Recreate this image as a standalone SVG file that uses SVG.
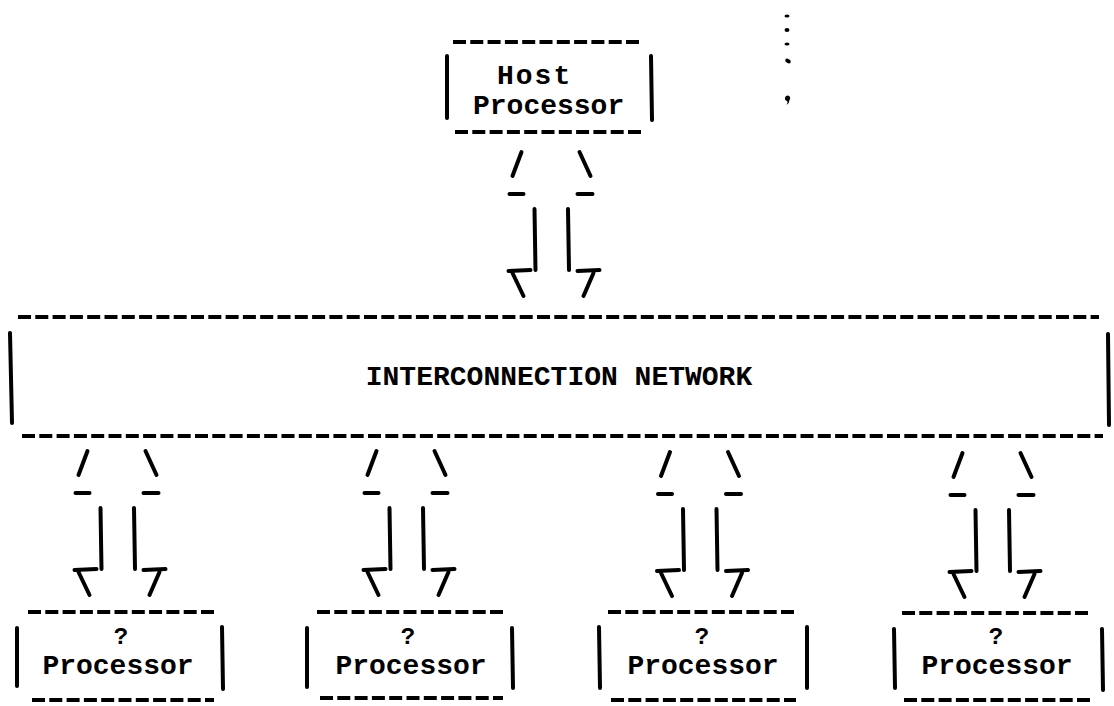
<svg xmlns="http://www.w3.org/2000/svg" width="1114" height="706" viewBox="0 0 1114 706">
  <style>
    .ln { stroke: #000; stroke-width: 4; stroke-linecap: round; fill: none; }
    .dash { stroke: #000; stroke-width: 4; stroke-dasharray: 13 4.3; stroke-linecap: butt; fill: none; }
    .lbl { font-family: "Liberation Mono", "Courier New", monospace; font-weight: bold; font-size: 28px; fill: #000; }
    .q { font-size: 24px; }
    .mark { fill: #000; }
  </style>
  <defs>
    <!-- typed double arrow: arrowheads at both ends, centred on x=0, top at y=0 -->
    <g id="link" class="ln">
      <line x1="-30" y1="0" x2="-39" y2="24"/>
      <line x1="28" y1="0" x2="39" y2="24"/>
      <line x1="-42" y1="42" x2="-28" y2="42"/>
      <line x1="26" y1="42" x2="41" y2="42"/>
      <line x1="-17" y1="57" x2="-16" y2="118"/>
      <line x1="16.5" y1="57" x2="17.5" y2="118"/>
      <line x1="-43" y1="119" x2="-21" y2="118"/>
      <line x1="-39" y1="121" x2="-28" y2="144"/>
      <line x1="26" y1="119" x2="48" y2="118"/>
      <line x1="42" y1="121" x2="32" y2="144"/>
    </g>
  </defs>

  <rect width="1114" height="706" fill="#fff"/>

  <!-- continuation marks beside the host -->
  <g id="ellipsis">
    <ellipse class="mark" cx="787" cy="16" rx="2.5" ry="1.5"/>
    <ellipse class="mark" cx="787" cy="30" rx="2.5" ry="2"/>
    <ellipse class="mark" cx="787" cy="44" rx="2.5" ry="1.5"/>
    <ellipse class="mark" cx="788" cy="61" rx="3" ry="2" transform="rotate(30 788 61)"/>
    <path class="mark" d="M785,98 a2.6,2.6 0 1 1 4.5,2 q0,3 -3,5 q1.5,-2.5 0.8,-4 a2.6,2.6 0 0 1 -2.3,-3z"/>
  </g>

  <g id="host">
    <line class="dash" x1="453" y1="42" x2="643" y2="42"/>
    <line class="dash" x1="455" y1="132" x2="643" y2="132"/>
    <line class="ln" x1="447" y1="56" x2="447" y2="118"/>
    <line class="ln" x1="651" y1="56" x2="652" y2="120"/>
    <text class="lbl" x="497" y="84" letter-spacing="2">Host</text>
    <text class="lbl" x="473" y="114">Processor</text>
  </g>

  <g id="network">
    <line class="dash" x1="18" y1="317" x2="1099" y2="317"/>
    <line class="dash" x1="22" y1="436" x2="1103" y2="436"/>
    <line class="ln" x1="10" y1="333" x2="12" y2="423"/>
    <line class="ln" x1="1108" y1="334" x2="1109" y2="425"/>
    <text class="lbl" x="559" y="385" text-anchor="middle" font-size="27">INTERCONNECTION NETWORK</text>
  </g>

  <g id="proc1">
    <line class="dash" x1="28" y1="612" x2="214" y2="612"/>
    <line class="dash" x1="32" y1="700" x2="214" y2="700"/>
    <line class="ln" x1="17" y1="628" x2="17" y2="686"/>
    <line class="ln" x1="222" y1="627" x2="223" y2="689"/>
    <text class="lbl q" x="121" y="644" text-anchor="middle">?</text>
    <text class="lbl" x="118" y="674" text-anchor="middle">Processor</text>
  </g>

  <g id="proc2">
    <line class="dash" x1="317" y1="612" x2="503" y2="612"/>
    <line class="dash" x1="320" y1="698" x2="503" y2="698"/>
    <line class="ln" x1="307" y1="628" x2="307" y2="687"/>
    <line class="ln" x1="512" y1="628" x2="513" y2="688"/>
    <text class="lbl q" x="408" y="644" text-anchor="middle">?</text>
    <text class="lbl" x="411" y="674" text-anchor="middle">Processor</text>
  </g>

  <g id="proc3">
    <line class="dash" x1="608" y1="612" x2="796" y2="612"/>
    <line class="dash" x1="611" y1="700" x2="796" y2="700"/>
    <line class="ln" x1="599" y1="627" x2="600" y2="688"/>
    <line class="ln" x1="807" y1="627" x2="807" y2="688"/>
    <text class="lbl q" x="702" y="644" text-anchor="middle">?</text>
    <text class="lbl" x="703" y="674" text-anchor="middle">Processor</text>
  </g>

  <g id="proc4">
    <line class="dash" x1="902" y1="613" x2="1091" y2="613"/>
    <line class="dash" x1="904" y1="700" x2="1091" y2="700"/>
    <line class="ln" x1="894" y1="629" x2="895" y2="688"/>
    <line class="ln" x1="1102" y1="629" x2="1103" y2="690"/>
    <text class="lbl q" x="996" y="644" text-anchor="middle">?</text>
    <text class="lbl" x="997" y="674" text-anchor="middle">Processor</text>
  </g>

  <g id="connectors">
    <use href="#link" transform="translate(551.5,152)"/>
    <use href="#link" transform="translate(117.5,451)"/>
    <use href="#link" transform="translate(406.5,451)"/>
    <use href="#link" transform="translate(700,452)"/>
    <use href="#link" transform="translate(992.5,453)"/>
  </g>
</svg>
